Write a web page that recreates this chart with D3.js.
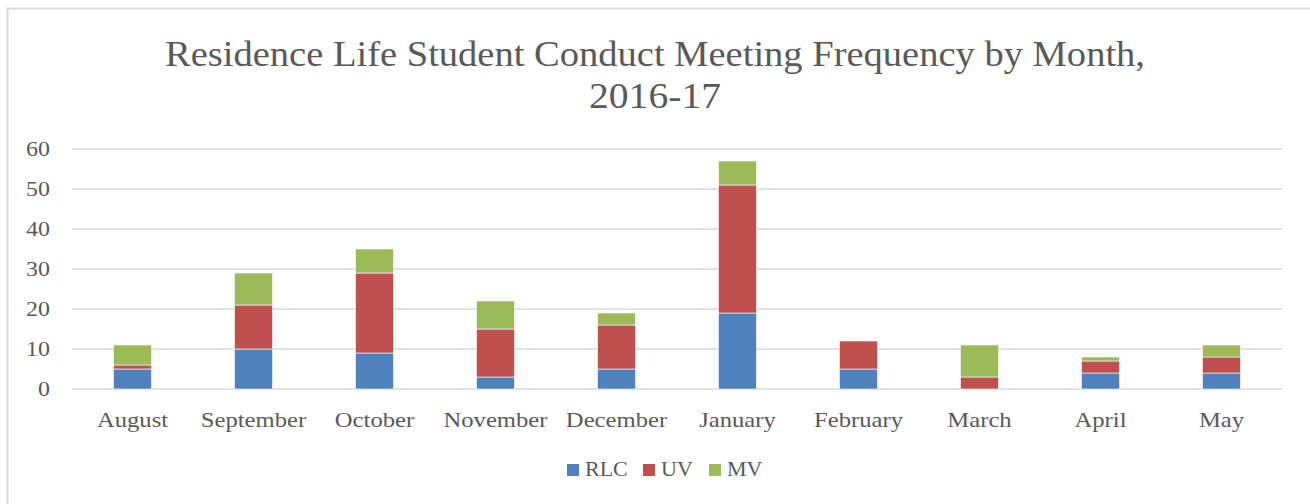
<!DOCTYPE html>
<html>
<head>
<meta charset="utf-8">
<script src="https://cdn.jsdelivr.net/npm/d3@7"></script>
<style>
  body { margin: 0; background: #fff; }
  text { font-family: "Liberation Serif", "DejaVu Serif", serif; fill: #595959; }
</style>
</head>
<body>
<svg id="chart"></svg>
<script>
const months = ["August", "September", "October", "November", "December",
                "January", "February", "March", "April", "May"];
const seriesNames = ["RLC", "UV", "MV"];
const rlc = [5, 10, 9, 3, 5, 19, 5, 0, 4, 4];
const uv = [1, 11, 20, 12, 11, 32, 7, 3, 3, 4];
const mv = [5, 8, 6, 7, 3, 6, 0, 8, 1, 3];
const yTicks = [0, 10, 20, 30, 40, 50, 60];
const titleLines = ["Residence Life Student Conduct Meeting Frequency by Month,", "2016-17"];

const width = 1310, height = 504;
const colors = { RLC: "#4F81BD", UV: "#C0504D", MV: "#9BBB59" };

const svg = d3.select("#chart")
    .attr("width", width)
    .attr("height", height);

// widen glyphs a bit, the original font is broader than Liberation Serif
function stretch(sel, k) {
    sel.each(function() {
        const w = this.getComputedTextLength();
        d3.select(this).attr("textLength", w * k).attr("lengthAdjust", "spacingAndGlyphs");
    });
}

// chart frame (right and bottom edges cut off in the original)
svg.append("rect")
    .attr("x", 7.5).attr("y", 8.5)
    .attr("width", width + 20).attr("height", height + 20)
    .attr("fill", "none")
    .attr("stroke", "#D9D9D9")
    .attr("stroke-width", 2);

// title
svg.append("g")
    .selectAll("text")
    .data(titleLines)
    .enter().append("text")
    .attr("x", 655)
    .attr("y", (d, i) => 66 + i * 42)
    .attr("text-anchor", "middle")
    .style("font-size", "36px")
    .text(d => d)
    .attr("textLength", (d, i) => i === 0 ? 980 : 132)
    .attr("lengthAdjust", "spacingAndGlyphs");

const margin = { left: 72, right: 28, top: 149, bottom: 389 };

const x = d3.scaleBand()
    .domain(months)
    .range([margin.left, width - margin.right])
    .paddingInner(0.686)
    .paddingOuter(0.343);

const y = d3.scaleLinear()
    .domain([0, 60])
    .range([margin.bottom, margin.top]);

// gridlines
svg.append("g")
    .selectAll("line")
    .data(yTicks)
    .enter().append("line")
    .attr("x1", margin.left)
    .attr("x2", width - margin.right)
    .attr("y1", d => y(d))
    .attr("y2", d => y(d))
    .attr("stroke", "#D9D9D9")
    .attr("stroke-width", 1.5);

// y tick labels
svg.append("g")
    .selectAll("text")
    .data(yTicks)
    .enter().append("text")
    .attr("x", 50)
    .attr("y", d => y(d) + 7)
    .attr("text-anchor", "end")
    .style("font-size", "21px")
    .text(d => d)
    .call(stretch, 1.14);

// stacked bars
const table = months.map((m, i) => ({ month: m, RLC: rlc[i], UV: uv[i], MV: mv[i] }));
const stacked = d3.stack().keys(seriesNames)(table);

svg.append("g")
    .selectAll("g")
    .data(stacked)
    .enter().append("g")
    .attr("fill", d => colors[d.key])
    .selectAll("rect")
    .data(d => d.filter(s => s[1] > s[0]))
    .enter().append("rect")
    .attr("x", d => x(d.data.month))
    .attr("width", x.bandwidth())
    .attr("y", d => y(d[1]))
    .attr("height", d => y(d[0]) - y(d[1]))
    .attr("stroke", "rgba(255,255,255,0.6)")
    .attr("stroke-width", 1);

// x labels
svg.append("g")
    .selectAll("text")
    .data(months)
    .enter().append("text")
    .attr("x", d => x(d) + x.bandwidth() / 2)
    .attr("y", 427)
    .attr("text-anchor", "middle")
    .style("font-size", "22px")
    .text(d => d)
    .call(stretch, 1.12);

// legend
const legendX = [567, 643, 709];
const legend = svg.append("g")
    .selectAll("g")
    .data(seriesNames)
    .enter().append("g")
    .attr("transform", (d, i) => `translate(${legendX[i]}, 464)`);

legend.append("rect")
    .attr("width", 12).attr("height", 12)
    .attr("fill", d => colors[d]);

legend.append("text")
    .attr("x", 18)
    .attr("y", 12)
    .style("font-size", "22px")
    .text(d => d);
</script>
</body>
</html>
